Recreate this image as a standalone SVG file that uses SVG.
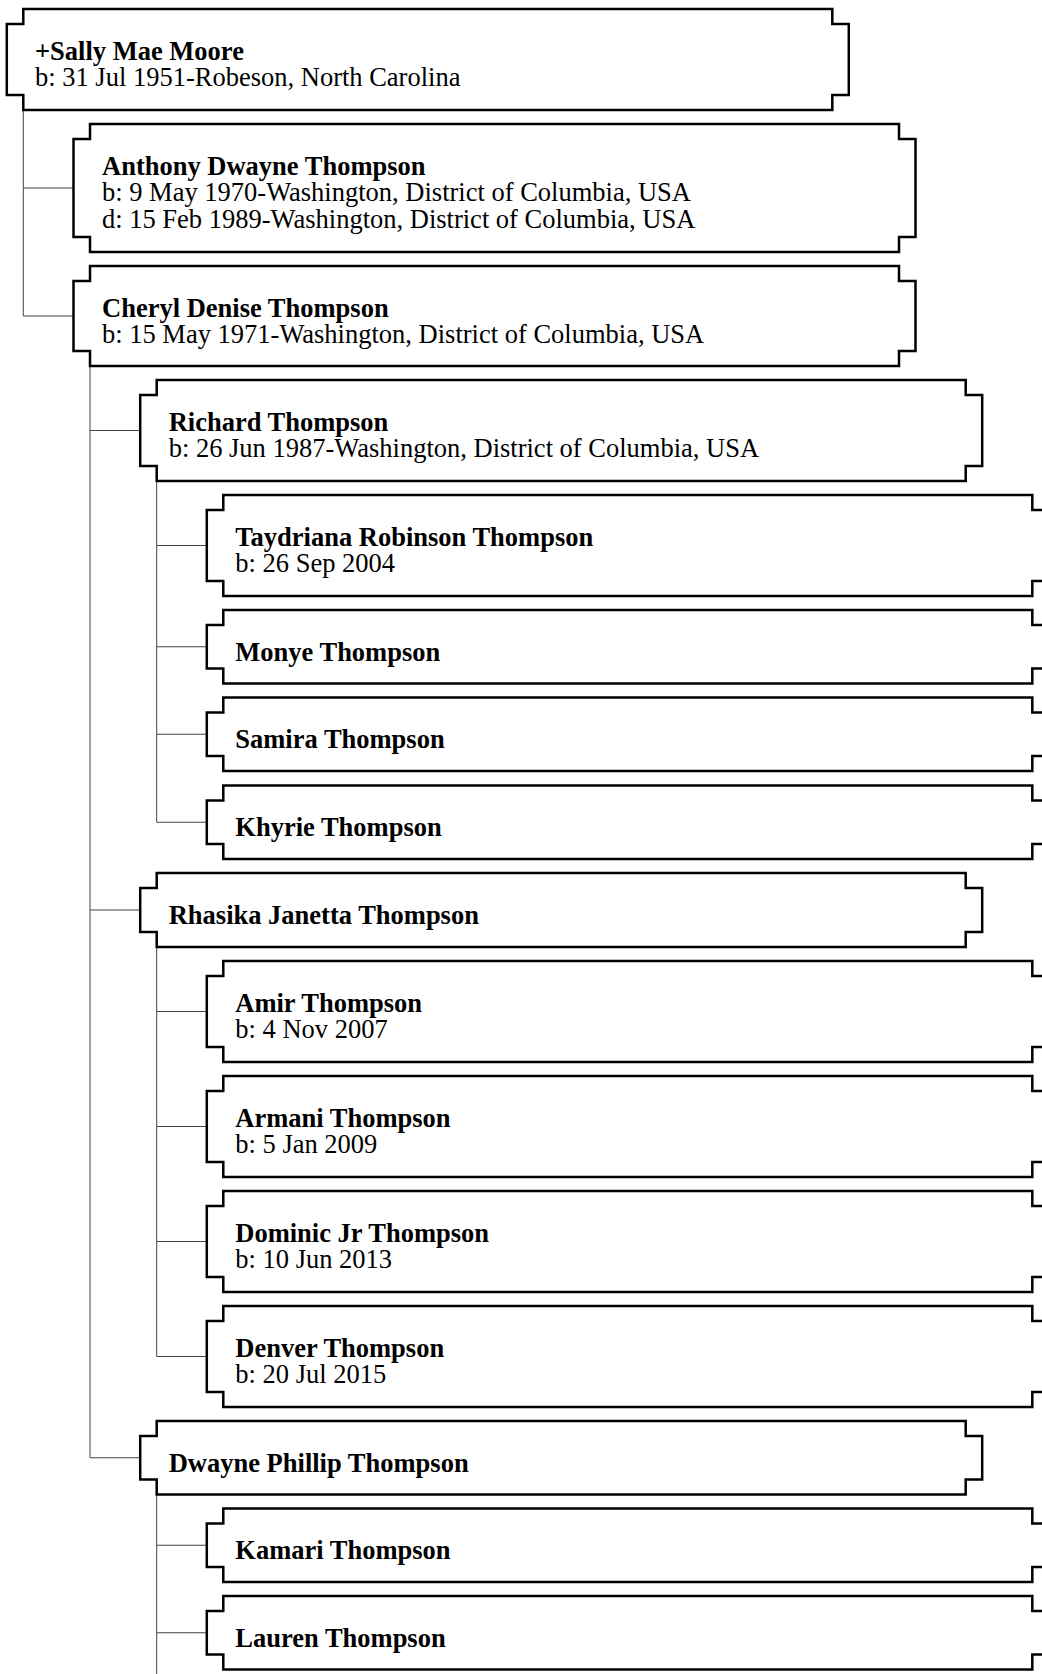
<svg xmlns="http://www.w3.org/2000/svg" width="1042" height="1674" viewBox="0 0 1042 1674">
<style>
.box{fill:#fff;stroke:#000;stroke-width:2.5;stroke-linejoin:miter}
.con{fill:none;stroke:#444;stroke-width:1}
text{font-family:"Liberation Serif","Times New Roman",serif;font-size:26.5px;fill:#000}
.n{font-weight:bold}
</style>
<rect width="1042" height="1674" fill="#fff"/>
<g id="connectors">
<path class="con" d="M23.3,110 V316 M23.3,188 H73.5 M23.3,316 H73.5"/>
<path class="con" d="M90,366 V1457.75 M90,430.5 H140.2 M90,910 H140.2 M90,1457.75 H140.2"/>
<path class="con" d="M156.7,481 V822.25 M156.7,545.5 H206.8 M156.7,646.75 H206.8 M156.7,734.25 H206.8 M156.7,822.25 H206.8"/>
<path class="con" d="M156.7,947 V1356.5 M156.7,1011.5 H206.8 M156.7,1126.5 H206.8 M156.7,1241.5 H206.8 M156.7,1356.5 H206.8"/>
<path class="con" d="M156.7,1494.5 V1674 M156.7,1545.25 H206.8 M156.7,1632.75 H206.8"/>
</g>
<g id="sally">
<path class="box" d="M23.3,9 H832.3 V24 H848.8 V95 H832.3 V110 H23.3 V95 H6.8 V24 H23.3 Z"/>
<text x="35" y="59.5"><tspan class="n">+Sally Mae Moore</tspan><tspan x="35" y="86">b: 31 Jul 1951-Robeson, North Carolina</tspan></text>
</g>
<g id="anthony">
<path class="box" d="M90,124 H899 V139 H915.5 V237 H899 V252 H90 V237 H73.5 V139 H90 Z"/>
<text x="102" y="174.5"><tspan class="n">Anthony Dwayne Thompson</tspan><tspan x="102" y="201">b: 9 May 1970-Washington, District of Columbia, USA</tspan><tspan x="102" y="227.5">d: 15 Feb 1989-Washington, District of Columbia, USA</tspan></text>
</g>
<g id="cheryl">
<path class="box" d="M90,266 H899 V281 H915.5 V351 H899 V366 H90 V351 H73.5 V281 H90 Z"/>
<text x="102" y="316.5"><tspan class="n">Cheryl Denise Thompson</tspan><tspan x="102" y="343">b: 15 May 1971-Washington, District of Columbia, USA</tspan></text>
</g>
<g id="richard">
<path class="box" d="M156.7,380 H965.7 V395 H982.2 V466 H965.7 V481 H156.7 V466 H140.2 V395 H156.7 Z"/>
<text x="168.7" y="430.5"><tspan class="n">Richard Thompson</tspan><tspan x="168.7" y="457">b: 26 Jun 1987-Washington, District of Columbia, USA</tspan></text>
</g>
<g id="taydriana">
<path class="box" d="M223.3,495 H1032.3 V510 H1048.8 V581 H1032.3 V596 H223.3 V581 H206.8 V510 H223.3 Z"/>
<text x="235.3" y="545.5"><tspan class="n">Taydriana Robinson Thompson</tspan><tspan x="235.3" y="572">b: 26 Sep 2004</tspan></text>
</g>
<g id="monye">
<path class="box" d="M223.3,610 H1032.3 V625 H1048.8 V668.5 H1032.3 V683.5 H223.3 V668.5 H206.8 V625 H223.3 Z"/>
<text class="n" x="235.3" y="660.5">Monye Thompson</text>
</g>
<g id="samira">
<path class="box" d="M223.3,697.5 H1032.3 V712.5 H1048.8 V756 H1032.3 V771 H223.3 V756 H206.8 V712.5 H223.3 Z"/>
<text class="n" x="235.3" y="748">Samira Thompson</text>
</g>
<g id="khyrie">
<path class="box" d="M223.3,785.5 H1032.3 V800.5 H1048.8 V844 H1032.3 V859 H223.3 V844 H206.8 V800.5 H223.3 Z"/>
<text class="n" x="235.3" y="836">Khyrie Thompson</text>
</g>
<g id="rhasika">
<path class="box" d="M156.7,873 H965.7 V888 H982.2 V932 H965.7 V947 H156.7 V932 H140.2 V888 H156.7 Z"/>
<text class="n" x="168.7" y="923.5">Rhasika Janetta Thompson</text>
</g>
<g id="amir">
<path class="box" d="M223.3,961 H1032.3 V976 H1048.8 V1047 H1032.3 V1062 H223.3 V1047 H206.8 V976 H223.3 Z"/>
<text x="235.3" y="1011.5"><tspan class="n">Amir Thompson</tspan><tspan x="235.3" y="1038">b: 4 Nov 2007</tspan></text>
</g>
<g id="armani">
<path class="box" d="M223.3,1076 H1032.3 V1091 H1048.8 V1162 H1032.3 V1177 H223.3 V1162 H206.8 V1091 H223.3 Z"/>
<text x="235.3" y="1126.5"><tspan class="n">Armani Thompson</tspan><tspan x="235.3" y="1153">b: 5 Jan 2009</tspan></text>
</g>
<g id="dominic">
<path class="box" d="M223.3,1191 H1032.3 V1206 H1048.8 V1277 H1032.3 V1292 H223.3 V1277 H206.8 V1206 H223.3 Z"/>
<text x="235.3" y="1241.5"><tspan class="n">Dominic Jr Thompson</tspan><tspan x="235.3" y="1268">b: 10 Jun 2013</tspan></text>
</g>
<g id="denver">
<path class="box" d="M223.3,1306 H1032.3 V1321 H1048.8 V1392 H1032.3 V1407 H223.3 V1392 H206.8 V1321 H223.3 Z"/>
<text x="235.3" y="1356.5"><tspan class="n">Denver Thompson</tspan><tspan x="235.3" y="1383">b: 20 Jul 2015</tspan></text>
</g>
<g id="dwayne">
<path class="box" d="M156.7,1421 H965.7 V1436 H982.2 V1479.5 H965.7 V1494.5 H156.7 V1479.5 H140.2 V1436 H156.7 Z"/>
<text class="n" x="168.7" y="1471.5">Dwayne Phillip Thompson</text>
</g>
<g id="kamari">
<path class="box" d="M223.3,1508.5 H1032.3 V1523.5 H1048.8 V1567 H1032.3 V1582 H223.3 V1567 H206.8 V1523.5 H223.3 Z"/>
<text class="n" x="235.3" y="1559">Kamari Thompson</text>
</g>
<g id="lauren">
<path class="box" d="M223.3,1596 H1032.3 V1611 H1048.8 V1654.5 H1032.3 V1669.5 H223.3 V1654.5 H206.8 V1611 H223.3 Z"/>
<text class="n" x="235.3" y="1646.5">Lauren Thompson</text>
</g>
</svg>
